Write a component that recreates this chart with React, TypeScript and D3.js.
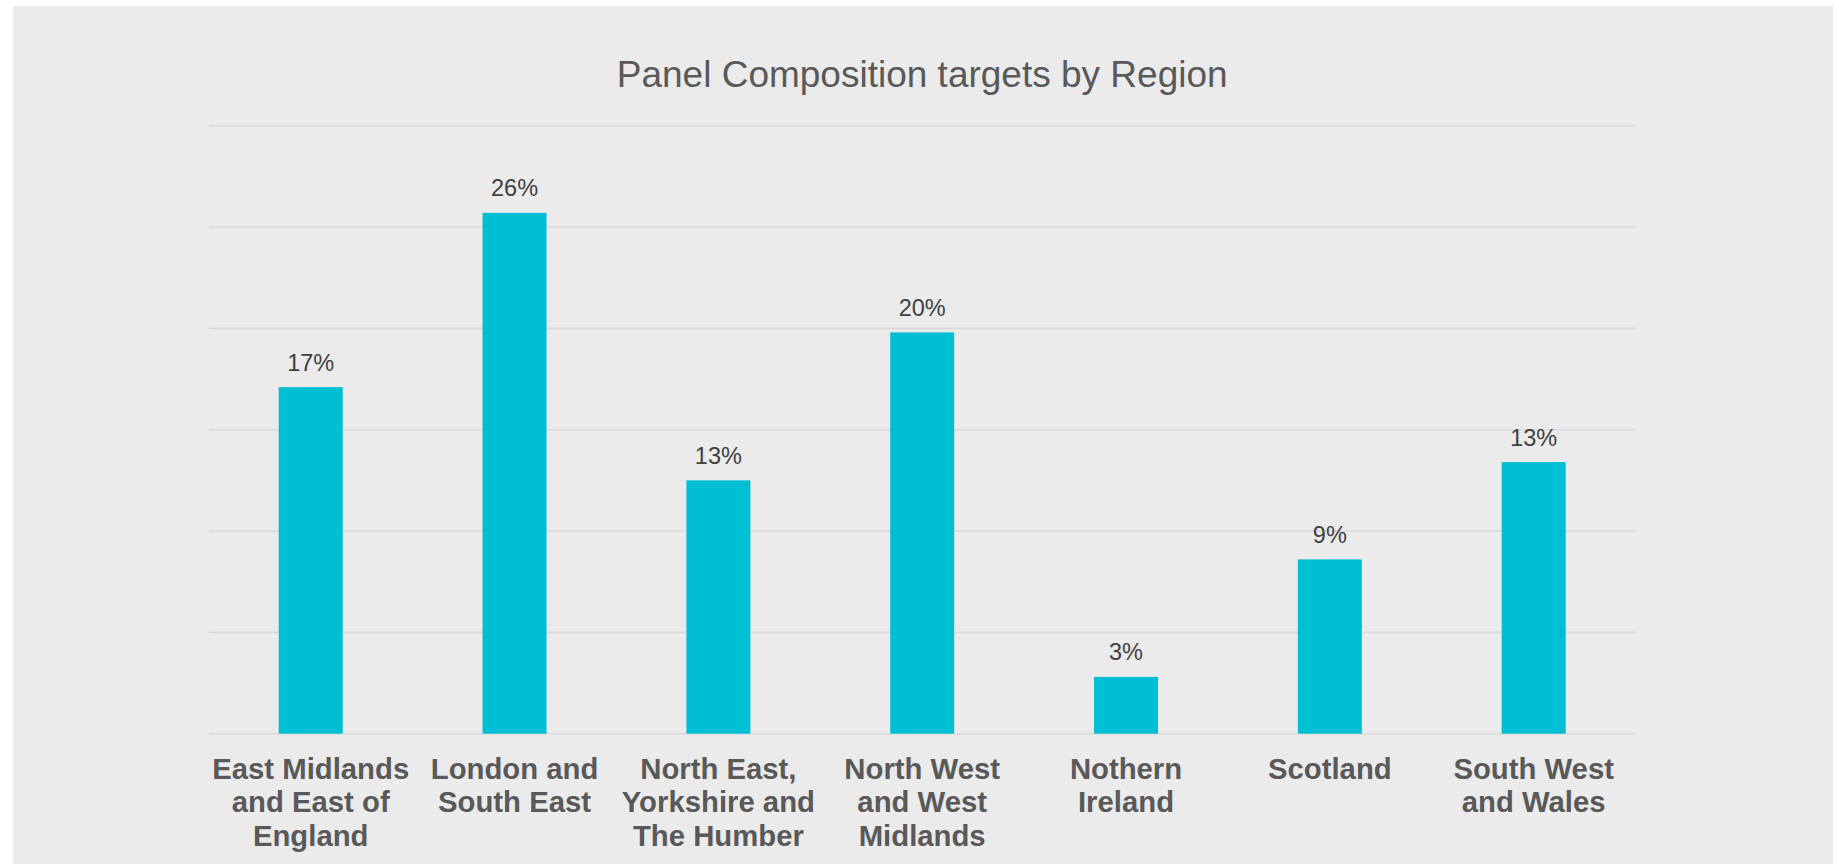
import React from "react";
import * as d3 from "d3";

const categories: string[][] = [
  ["East Midlands", "and East of", "England"],
  ["London and", "South East"],
  ["North East,", "Yorkshire and", "The Humber"],
  ["North West", "and West", "Midlands"],
  ["Nothern", "Ireland"],
  ["Scotland"],
  ["South West", "and Wales"],
];
const values: number[] = [17.1, 25.7, 12.5, 19.8, 2.8, 8.6, 13.4];
const yTicks: number[] = [0, 5, 10, 15, 20, 25, 30];
const title = "Panel Composition targets by Region";

const W = 1839;
const H = 864;
const FONT = "'Liberation Sans', Arial, Helvetica, sans-serif";

export default function App() {
  const plotLeft = 208.8;
  const plotRight = 1635.6;
  const plotTop = 125.7;
  const plotBottom = 733.7;

  const keys = categories.map((_, i) => String(i));
  const x = d3
    .scaleBand<string>()
    .domain(keys)
    .range([plotLeft, plotRight])
    .paddingInner(0.686)
    .paddingOuter(0.343);
  const y = d3.scaleLinear().domain([0, 30]).range([plotBottom, plotTop]);
  const fmt = d3.format(".0%");

  return (
    <svg
      width={W}
      height={H}
      style={{ position: "absolute", left: 0, top: 0, display: "block" }}
    >
      <rect x={0} y={0} width={W} height={H} fill="#ffffff" />
      <rect x={13} y={6} width={1820} height={H - 6} fill="#ebebeb" />
      <text
        x={(plotLeft + plotRight) / 2}
        y={87}
        textAnchor="middle"
        fontFamily={FONT}
        fontSize={37}
        fill="#595959"
      >
        {title}
      </text>
      {yTicks.map((t) => (
        <line
          key={t}
          x1={plotLeft}
          x2={plotRight}
          y1={y(t)}
          y2={y(t)}
          stroke="#d9d9d9"
          strokeWidth={1.6}
        />
      ))}
      {values.map((v, i) => {
        const bx = x(String(i))!;
        const bw = x.bandwidth();
        return (
          <g key={i}>
            <rect
              x={bx}
              y={y(v)}
              width={bw}
              height={y(0) - y(v)}
              fill="#00bed4"
            />
            <text
              x={bx + bw / 2}
              y={y(v) - 16.6}
              textAnchor="middle"
              fontFamily={FONT}
              fontSize={23.5}
              fill="#404040"
            >
              {fmt(Math.round(v) / 100)}
            </text>
          </g>
        );
      })}
      {categories.map((lines, i) => {
        const cx = x(String(i))! + x.bandwidth() / 2;
        return (
          <text
            key={i}
            x={cx}
            y={779}
            textAnchor="middle"
            fontFamily={FONT}
            fontSize={29.3}
            fontWeight="bold"
            fill="#595959"
          >
            {lines.map((l, j) => (
              <tspan key={j} x={cx} y={779 + j * 33.3}>
                {l}
              </tspan>
            ))}
          </text>
        );
      })}
    </svg>
  );
}
